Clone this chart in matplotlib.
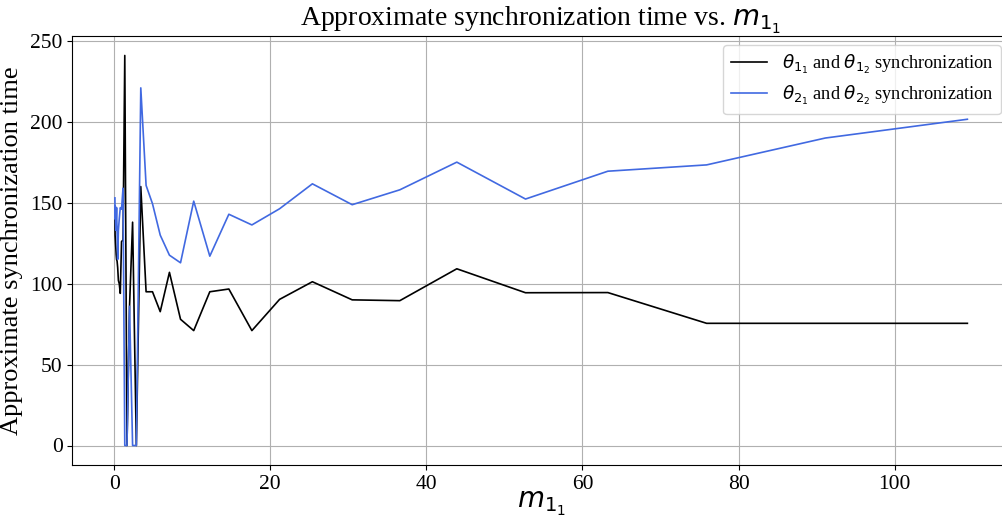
import numpy as np
import matplotlib
matplotlib.use("Agg")
import matplotlib.pyplot as plt

plt.rcParams['font.family'] = ['Liberation Serif', 'DejaVu Serif']
plt.rcParams['mathtext.fontset'] = 'dejavusans'

# m_1_1 values
m11 = [0.107, 0.128, 0.154, 0.185, 0.222, 0.266, 0.319, 0.383, 0.46, 0.552,
       0.662, 0.795, 0.954, 1.145, 1.37, 1.65, 1.98, 2.37, 2.85, 3.42,
       4.10, 4.92, 5.91, 7.09, 8.51, 10.2, 12.26, 14.7, 17.65, 21.2,
       25.4, 30.5, 36.6, 43.9, 52.7, 63.25, 75.9, 91.1, 109.3]

# theta_1_1 / theta_1_2 synchronization time
sync_theta1 = [140, 130, 128, 125, 122, 118, 115, 114, 110, 102,
               100, 94, 126, 127, 241, 0, 86, 138, 0, 160,
               95, 95, 82.7, 107, 78, 71, 95, 96.7, 71, 90.3,
               101.2, 90, 89.5, 109.2, 94.4, 94.5, 75.5, 75.5, 75.5]

# theta_2_1 / theta_2_2 synchronization time
sync_theta2 = [153, 140, 148, 138, 133, 140, 147, 133, 115, 133,
               140, 147, 146, 159, 0, 0, 86, 0, 0, 221,
               160.7, 149.4, 130, 117.6, 112.9, 151, 117, 142.9, 136.3, 146.3,
               161.7, 148.8, 158, 175.1, 152.3, 169.5, 173.4, 190, 201.6]

fig = plt.figure(figsize=(10.03, 5.16), dpi=100)
ax = fig.add_axes([72.3 / 1003, 51 / 516, (1010 - 72.3) / 1003, (465 - 36) / 516])

ax.plot(m11, sync_theta1, color='black', linewidth=1.2,
        label=r'$\theta_{1_1}$ and $\theta_{1_2}$ synchronization')
ax.plot(m11, sync_theta2, color='royalblue', linewidth=1.2,
        label=r'$\theta_{2_1}$ and $\theta_{2_2}$ synchronization')

ax.set_title(r'Approximate synchronization time vs. $m_{1_1}$', fontsize=20, pad=5)
ax.set_xlabel(r'$m_{1_1}$', fontsize=20, labelpad=-3)
ax.set_ylabel('Approximate synchronization time', fontsize=19, labelpad=5)
ax.tick_params(labelsize=15.5)
ax.grid(True)
ax.legend(loc='upper right', fontsize=13.2, labelspacing=0.45)

fig.savefig('out.png', dpi=100)
